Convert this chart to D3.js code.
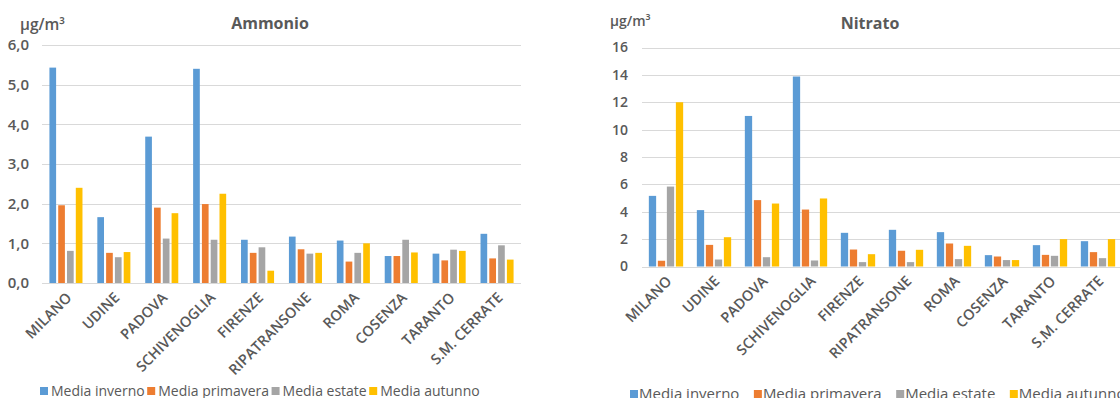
<!DOCTYPE html>
<html>
<head>
<meta charset="utf-8">
<script src="https://cdn.jsdelivr.net/npm/d3@7"></script>
<style>
  html, body { margin: 0; padding: 0; background: #fff; overflow: hidden; }
  svg { display: block; font-family: "Open Sans", "Liberation Sans", sans-serif; }
  .tick-label { fill: #595959; font-weight: 600; }
  .cat-label { fill: #595959; font-weight: 600; }
  .title { fill: #595959; font-weight: 700; }
  .unit { fill: #595959; font-weight: 600; }
  .legend-text { fill: #595959; }
</style>
</head>
<body>
<svg id="chart" width="1120" height="398"></svg>
<script>
// Stations, in display order
const categories = ["MILANO", "UDINE", "PADOVA", "SCHIVENOGLIA", "FIRENZE",
  "RIPATRANSONE", "ROMA", "COSENZA", "TARANTO", "S.M. CERRATE"];

const seriesNames = ["Media inverno", "Media primavera", "Media estate", "Media autunno"];
const seriesColors = ["#5B9BD5", "#ED7D31", "#A5A5A5", "#FFC000"];

// Ammonio seasonal means (µg/m³)
const ammonioInverno   = [5.43, 1.66, 3.69, 5.40, 1.09, 1.17, 1.07, 0.68, 0.74, 1.24];
const ammonioPrimavera = [1.96, 0.76, 1.90, 1.99, 0.76, 0.85, 0.54, 0.68, 0.57, 0.62];
const ammonioEstate    = [0.81, 0.65, 1.12, 1.09, 0.90, 0.74, 0.76, 1.09, 0.84, 0.95];
const ammonioAutunno   = [2.40, 0.78, 1.76, 2.25, 0.31, 0.76, 1.00, 0.77, 0.81, 0.59];
const ammonioTicks = [0, 1, 2, 3, 4, 5, 6];

// Nitrato seasonal means (µg/m³)
const nitratoInverno   = [5.16, 4.12, 11.0, 13.88, 2.46, 2.68, 2.51, 0.83, 1.56, 1.85];
const nitratoPrimavera = [0.42, 1.58, 4.85, 4.16, 1.24, 1.15, 1.68, 0.73, 0.85, 1.05];
const nitratoEstate    = [5.84, 0.51, 0.68, 0.44, 0.32, 0.32, 0.54, 0.47, 0.78, 0.61];
const nitratoAutunno   = [12.0, 2.14, 4.60, 4.97, 0.90, 1.22, 1.51, 0.47, 2.00, 2.00];
const nitratoTicks = [0, 2, 4, 6, 8, 10, 12, 14, 16];

const svg = d3.select("#chart");

function drawPanel(cfg) {
  const g = svg.append("g");
  const x = d3.scaleBand().domain(categories)
    .range([cfg.left, cfg.right]).paddingInner(cfg.groupPad).paddingOuter(cfg.groupPad / 2);
  const xs = d3.scaleBand().domain(seriesNames)
    .range([0, x.bandwidth()]).paddingInner(cfg.barPad);
  const y = d3.scaleLinear().domain([0, d3.max(cfg.ticks)]).range([cfg.bottom, cfg.top]);

  // horizontal gridlines
  g.append("g").selectAll("line").data(cfg.ticks).join("line")
    .attr("x1", cfg.left).attr("x2", cfg.right)
    .attr("y1", d => Math.round(y(d)) + 0.5).attr("y2", d => Math.round(y(d)) + 0.5)
    .attr("stroke", "#D9D9D9").attr("stroke-width", 1);

  // y tick labels
  g.append("g").selectAll("text").data(cfg.ticks).join("text")
    .attr("class", "tick-label")
    .attr("x", cfg.tickX).attr("y", d => y(d)).attr("dy", "0.35em")
    .attr("text-anchor", "end").attr("font-size", cfg.tickSize)
    .text(cfg.tickFormat);

  // bars
  const series = cfg.values.map((vals, i) => ({ name: seriesNames[i], color: seriesColors[i], vals }));
  g.append("g").selectAll("g").data(series).join("g")
    .attr("fill", s => s.color)
    .selectAll("rect").data(s => s.vals.map((v, j) => ({ s: s.name, c: categories[j], v })))
    .join("rect")
    .attr("x", d => x(d.c) + xs(d.s))
    .attr("width", xs.bandwidth())
    .attr("y", d => y(d.v))
    .attr("height", d => y(0) - y(d.v));

  // category labels, rotated
  g.append("g").selectAll("text").data(categories).join("text")
    .attr("class", "cat-label")
    .attr("font-size", cfg.catSize)
    .attr("text-anchor", "end")
    .attr("transform", d => `translate(${x(d) + x.bandwidth() / 2 + 3},${cfg.bottom + 12}) rotate(-45)`)
    .attr("dy", "0.35em")
    .text(d => d);

  // title and unit
  g.append("text").attr("class", "title").attr("font-size", 16)
    .attr("x", cfg.titleX).attr("y", 29).attr("text-anchor", "middle").text(cfg.title);
  g.append("text").attr("class", "unit").attr("font-size", cfg.unitSize)
    .attr("x", cfg.unitX).attr("y", cfg.unitY).text("µg/m³");

  // legend
  const lg = g.append("g");
  let lx = cfg.legendX;
  seriesNames.forEach((name, i) => {
    lg.append("rect").attr("x", lx).attr("y", cfg.legendY - 8.5)
      .attr("width", 8).attr("height", 8).attr("fill", seriesColors[i]);
    const t = lg.append("text").attr("class", "legend-text")
      .attr("font-size", cfg.legendSize)
      .attr("x", lx + cfg.legendTextOffset).attr("y", cfg.legendY).text(name);
    lx += cfg.legendTextOffset + t.node().getComputedTextLength() + cfg.legendGap;
  });
}

const commaFmt = d => d3.format(".1f")(d).replace(".", ",");

drawPanel({
  title: "Ammonio", titleX: 270,
  unitX: 20, unitY: 30, unitSize: 15.5,
  left: 42, right: 521, top: 45, bottom: 283,
  ticks: ammonioTicks, tickFormat: commaFmt, tickX: 29, tickSize: 15,
  groupPad: 0.31, barPad: 0.24, catSize: 14.5,
  values: [ammonioInverno, ammonioPrimavera, ammonioEstate, ammonioAutunno],
  legendX: 40, legendY: 395.5, legendSize: 14, legendTextOffset: 11, legendGap: 2.5
});

drawPanel({
  title: "Nitrato", titleX: 870,
  unitX: 610, unitY: 26, unitSize: 14,
  left: 642, right: 1122, top: 47.5, bottom: 266.5,
  ticks: nitratoTicks, tickFormat: d => String(d), tickX: 628, tickSize: 14,
  groupPad: 0.285, barPad: 0.19, catSize: 14.5,
  values: [nitratoInverno, nitratoPrimavera, nitratoEstate, nitratoAutunno],
  legendX: 630, legendY: 398.5, legendSize: 15, legendTextOffset: 9, legendGap: 14.5
});
</script>
</body>
</html>
